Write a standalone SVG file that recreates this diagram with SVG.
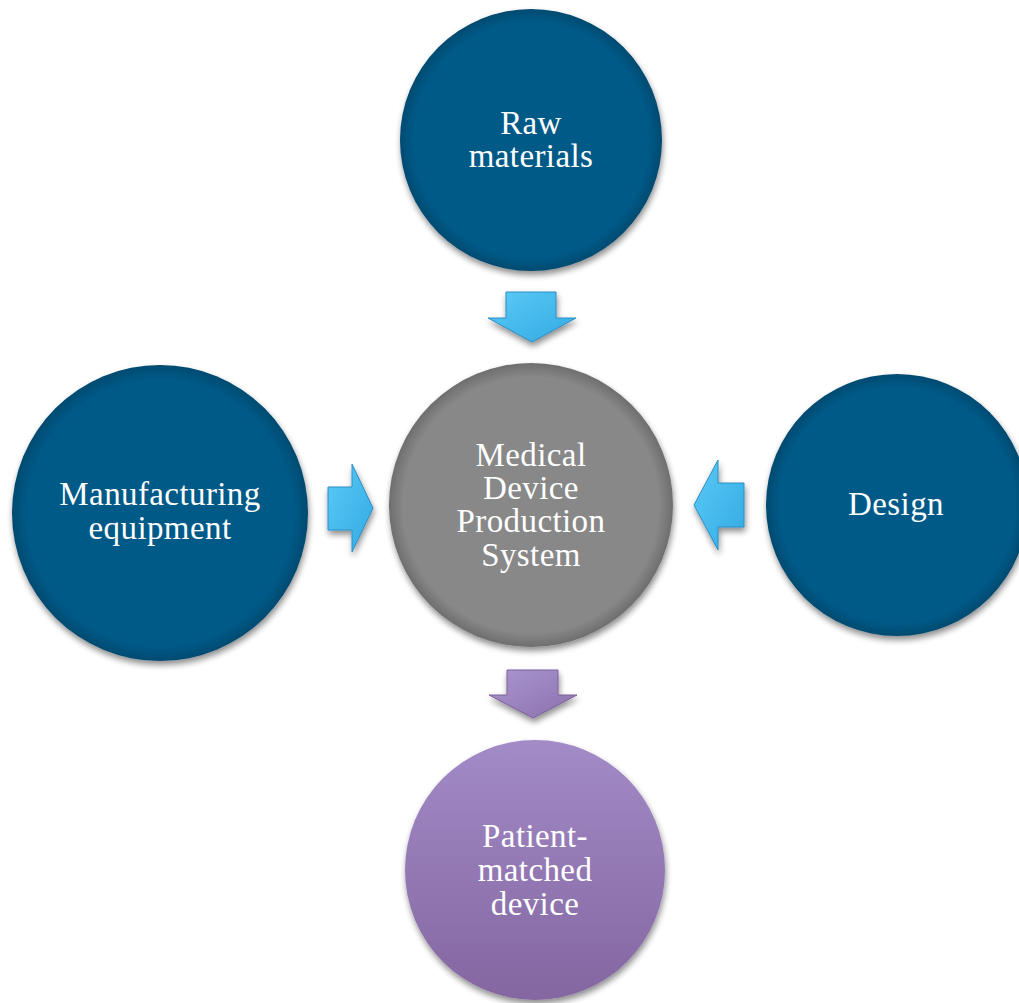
<svg xmlns="http://www.w3.org/2000/svg" width="1019" height="1003" viewBox="0 0 1019 1003">
<defs>
<filter id="sh" x="-20%" y="-20%" width="140%" height="140%">
<feGaussianBlur in="SourceAlpha" stdDeviation="3"/>
<feOffset dx="1" dy="4" result="b"/>
<feComponentTransfer><feFuncA type="linear" slope="0.45"/></feComponentTransfer>
<feMerge><feMergeNode/><feMergeNode in="SourceGraphic"/></feMerge>
</filter>
<radialGradient id="gBlue" cx="50%" cy="50%" r="50%">
<stop offset="0.9" stop-color="#065A88"/>
<stop offset="1" stop-color="#044A70"/>
</radialGradient>
<radialGradient id="gGray" cx="50%" cy="50%" r="50%">
<stop offset="0.9" stop-color="#888888"/>
<stop offset="1" stop-color="#6E6E6E"/>
</radialGradient>
<linearGradient id="gPurp" x1="0" y1="0" x2="0" y2="1">
<stop offset="0" stop-color="#A28BC7"/>
<stop offset="1" stop-color="#8466A0"/>
</linearGradient>
<linearGradient id="gArrB" x1="0" y1="0" x2="1" y2="1">
<stop offset="0" stop-color="#5CCAF5"/>
<stop offset="1" stop-color="#32AAE4"/>
</linearGradient>
<linearGradient id="gArrP" x1="0" y1="0" x2="1" y2="1">
<stop offset="0" stop-color="#AA96D0"/>
<stop offset="1" stop-color="#8B70AE"/>
</linearGradient>
</defs>
<style>
.lbl{font-family:"Liberation Serif","DejaVu Serif",serif;font-size:33px;letter-spacing:0.4px;fill:#ffffff;text-anchor:middle}
.arrB{fill:url(#gArrB);stroke:#2A8FC4;stroke-width:1}
.arrP{fill:url(#gArrP);stroke:#7B619B;stroke-width:1}
</style>
<rect width="1019" height="1003" fill="#ffffff"/>
<g id="connectors" filter="url(#sh)">
<path class="arrB" d="M506,292 L556,292 L556,318 L576,318 L532,342 L488,318 L506,318 Z"/>
<path class="arrB" d="M328,487 L352,487 L352,464 L373,508 L352,552 L352,530 L328,530 Z"/>
<path class="arrB" d="M744,483 L718,483 L718,460 L694,505 L718,550 L718,527 L744,527 Z"/>
<path class="arrP" d="M507,670 L558,670 L558,695 L577,695 L533,718 L489,695 L507,695 Z"/>
</g>
<g id="raw">
<circle cx="531" cy="140" r="131" fill="url(#gBlue)" filter="url(#sh)"/>
<text class="lbl" x="531" y="134">Raw</text>
<text class="lbl" x="531" y="167">materials</text>
</g>
<g id="center">
<circle cx="531" cy="505" r="142" fill="url(#gGray)" filter="url(#sh)"/>
<text class="lbl" x="531" y="466">Medical</text>
<text class="lbl" x="531" y="499">Device</text>
<text class="lbl" x="531" y="532">Production</text>
<text class="lbl" x="531" y="566">System</text>
</g>
<g id="manufacturing">
<circle cx="160" cy="513" r="148" fill="url(#gBlue)" filter="url(#sh)"/>
<text class="lbl" x="160" y="505">Manufacturing</text>
<text class="lbl" x="160" y="539">equipment</text>
</g>
<g id="design">
<circle cx="897" cy="505" r="131" fill="url(#gBlue)" filter="url(#sh)"/>
<text class="lbl" x="896" y="515">Design</text>
</g>
<g id="patient">
<circle cx="535" cy="870" r="130" fill="url(#gPurp)" filter="url(#sh)"/>
<text class="lbl" x="535" y="847">Patient-</text>
<text class="lbl" x="535" y="881">matched</text>
<text class="lbl" x="535" y="915">device</text>
</g>
</svg>
